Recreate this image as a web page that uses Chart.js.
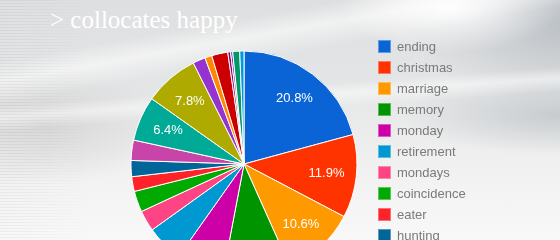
<!DOCTYPE html>
<html>
<head>
<meta charset="utf-8">
<script src="https://cdn.jsdelivr.net/npm/chart.js@4.4.1/dist/chart.umd.min.js"></script>
<style>
  html, body { margin: 0; padding: 0; }
  body {
    width: 560px; height: 240px; overflow: hidden; position: relative;
    background:
      radial-gradient(ellipse 110px 45px at 450px 8px, rgba(255,255,255,0.95), rgba(255,255,255,0) 100%),
      linear-gradient(170deg, rgba(255,255,255,0) 18%, rgba(255,255,255,0.55) 24%, rgba(255,255,255,0) 31%),
      linear-gradient(176deg, rgba(255,255,255,0) 38%, rgba(255,255,255,0.5) 42%, rgba(255,255,255,0) 47%),
      radial-gradient(ellipse 170px 80px at 575px 25px, rgba(180,186,192,0.85), rgba(180,186,192,0) 100%),
      radial-gradient(ellipse 160px 40px at 560px 115px, rgba(190,196,200,0.8), rgba(190,196,200,0) 100%),
      radial-gradient(ellipse 140px 60px at 40px 125px, rgba(205,205,205,0.7), rgba(205,205,205,0) 100%),
      linear-gradient(to bottom, #dedfe0 0%, #e4e5e6 35%, #f1f1f1 70%, #f8f8f8 100%);
  }
  #stripes {
    position: absolute; left: 0; top: 0; width: 90px; height: 240px;
    background: repeating-linear-gradient(to bottom, rgba(0,0,0,0.05) 0 1px, rgba(255,255,255,0.05) 1px 3px);
    -webkit-mask-image: linear-gradient(to right, #000, transparent);
    mask-image: linear-gradient(to right, #000, transparent);
  }
  #title {
    position: absolute; left: 50px; top: 6px; margin: 0;
    font: 25px "Liberation Serif", "DejaVu Serif", serif;
    color: #ffffff; white-space: nowrap; font-weight: normal;
  }
  #chart { position: absolute; left: 0; top: 0; }
  #legend {
    position: absolute; left: 378px; top: 40px; margin: 0; padding: 0; list-style: none;
    font: 13px "Liberation Sans", Arial, sans-serif; color: #7a7a7a;
  }
  #legend li { position: relative; height: 21px; line-height: 13px; padding-left: 19px; white-space: nowrap; }
  #legend li span {
    position: absolute; left: 0; top: 0; width: 13px; height: 13px; box-sizing: border-box;
    border: 1px solid rgba(255,255,255,0.35);
  }
</style>
</head>
<body>
<div id="stripes"></div>
<h1 id="title">&gt; collocates happy</h1>
<canvas id="chart" width="560" height="328"></canvas>
<ul id="legend"></ul>
<script>
// Collocates of "happy": share of each word, in percent
const words = ['ending', 'christmas', 'marriage', 'memory', 'monday', 'retirement', 'mondays',
  'coincidence', 'eater', 'hunting', 'birthday', 'face', 'medium', 'couple', 'camper',
  'hour', 'family', 'childhood', 'days', 'life'];
const shares = [20.8, 11.9, 10.6, 9.7, 6.8, 5.3, 3.0, 3.0, 2.1, 2.3, 2.9, 6.4, 7.8,
  1.8, 1.0, 2.3, 0.4, 0.3, 1.0, 0.6];
const sliceColors = ['#0a64d6', '#ff3300', '#ff9900', '#009400', '#cc00a6', '#0098d0',
  '#ff4485', '#00aa00', '#ff2228', '#006699', '#c844a8', '#00aa96', '#aeaa00', '#9433d0',
  '#ff8800', '#cc0000', '#99005f', '#6633cc', '#009966', '#0099dd'];

// Slices at or above this share get a percentage label
const LABEL_MIN = 6;
// Height of the visible page; labels that would be cut by it are skipped
const VIEW_H = 240;

const sliceLabels = {
  id: 'sliceLabels',
  afterDatasetsDraw(chart) {
    const ctx = chart.ctx;
    const meta = chart.getDatasetMeta(0);
    ctx.save();
    ctx.font = '13px "Liberation Sans", Arial, sans-serif';
    ctx.fillStyle = '#ffffff';
    ctx.textAlign = 'center';
    ctx.textBaseline = 'middle';
    meta.data.forEach((arc, i) => {
      const v = shares[i];
      if (v < LABEL_MIN) return;
      const p = arc.getProps(['x', 'y', 'startAngle', 'endAngle', 'outerRadius'], true);
      const mid = (p.startAngle + p.endAngle) / 2;
      const r = p.outerRadius * 0.735;
      const tx = p.x + Math.cos(mid) * r;
      const ty = p.y + Math.sin(mid) * r;
      if (ty + 7 > VIEW_H) return;
      ctx.fillText(v.toFixed(1) + '%', tx, ty);
    });
    ctx.restore();
  }
};

const chart = new Chart(document.getElementById('chart'), {
  type: 'pie',
  data: {
    labels: words,
    datasets: [{
      data: shares,
      backgroundColor: sliceColors,
      borderColor: '#ffffff',
      borderWidth: 1,
      radius: 113
    }]
  },
  options: {
    responsive: false,
    animation: false,
    layout: { padding: { left: 131, right: 203, top: 51, bottom: 51 } },
    plugins: {
      legend: { display: false },
      tooltip: { enabled: false }
    }
  },
  plugins: [sliceLabels]
});

// Legend list built from the chart's own legend items
const legendEl = document.getElementById('legend');
Chart.overrides.pie.plugins.legend.labels.generateLabels(chart).forEach(item => {
  const li = document.createElement('li');
  const box = document.createElement('span');
  box.style.background = item.fillStyle;
  li.appendChild(box);
  li.appendChild(document.createTextNode(item.text));
  legendEl.appendChild(li);
});
</script>
</body>
</html>
